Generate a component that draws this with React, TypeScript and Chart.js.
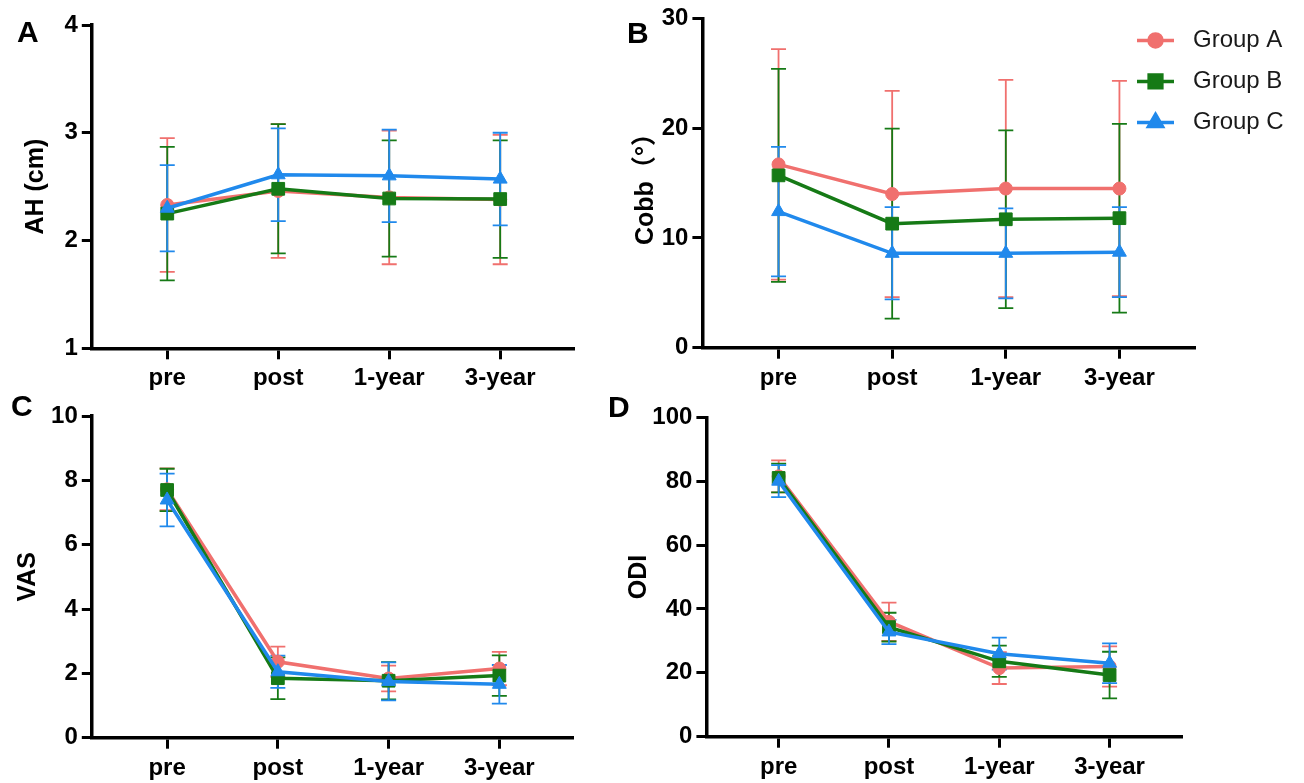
import React, { useEffect, useRef } from 'react';
import { Chart, registerables } from 'chart.js';
import { drawPoint } from 'chart.js/helpers';

Chart.register(...registerables);

const FONT_FAMILY = '"Liberation Sans", Arial, "Noto Sans CJK SC", sans-serif';
Chart.defaults.font.family = FONT_FAMILY;

// ---------- data ----------
const CATEGORIES = ['pre', 'post', '1-year', '3-year'];
const GROUPS = ['Group A', 'Group B', 'Group C'];
const COLORS = ['rgb(240,112,110)', 'rgb(22,122,22)', 'rgb(32,137,236)'];
const POINT_STYLES = ['circle', 'rect', 'triangle'];
const POINT_RADII = [6.5, 9, 8];

// Panel A: AH (cm)
const AH_A = [2.33, 2.46, 2.40, 2.38];
const AH_B = [2.25, 2.48, 2.39, 2.385];
const AH_C = [2.30, 2.61, 2.60, 2.57];
const AH_SD_A = [0.62, 0.62, 0.62, 0.60];
const AH_SD_B = [0.62, 0.60, 0.54, 0.545];
const AH_SD_C = [0.40, 0.43, 0.43, 0.43];

// Panel B: Cobb angle
const COBB_A = [16.7, 14.0, 14.5, 14.5];
const COBB_B = [15.7, 11.3, 11.7, 11.8];
const COBB_C = [12.4, 8.6, 8.6, 8.7];
const COBB_SD_A = [10.5, 9.4, 9.9, 9.8];
const COBB_SD_B = [9.7, 8.65, 8.1, 8.6];
const COBB_SD_C = [5.9, 4.2, 4.1, 4.1];

// Panel C: VAS
const VAS_A = [7.72, 2.36, 1.84, 2.15];
const VAS_B = [7.70, 1.85, 1.77, 1.93];
const VAS_C = [7.39, 2.05, 1.75, 1.66];
const VAS_SD_A = [0.65, 0.47, 0.40, 0.52];
const VAS_SD_B = [0.66, 0.65, 0.58, 0.63];
const VAS_SD_C = [0.82, 0.50, 0.59, 0.60];

// Panel D: ODI
const ODI_A = [81.5, 36.0, 21.5, 22.0];
const ODI_B = [81.0, 34.3, 23.6, 19.3];
const ODI_C = [80.0, 32.8, 26.0, 23.0];
const ODI_SD_A = [5.0, 6.0, 5.0, 6.3];
const ODI_SD_B = [4.5, 4.5, 4.9, 7.3];
const ODI_SD_C = [5.0, 3.8, 5.0, 6.2];

// ---------- layout specs ----------
type PanelSpec = {
  letter: string;
  letterLeft: number;
  letterTop: number;
  left: number;
  top: number;
  w: number;
  h: number;
  title: string;
  yMin: number;
  yMax: number;
  yStep: number;
  xMin: number;
  xMax: number;
  means: number[][];
  sds: number[][];
  legend: boolean;
  padLeft: number;
  padRight: number;
  padTop: number;
  yWidth: number;
  xHeight: number;
};

const PANELS: PanelSpec[] = [
  {
    letter: 'A', letterLeft: 17, letterTop: 17,
    left: 0, top: 0, w: 600, h: 390,
    title: 'AH (cm)', yMin: 1, yMax: 4, yStep: 1, xMin: -0.68, xMax: 3.665,
    means: [AH_A, AH_B, AH_C], sds: [AH_SD_A, AH_SD_B, AH_SD_C], legend: false,
    padLeft: 21.5, padRight: 26, padTop: 25, yWidth: 70.3, xHeight: 41.7,
  },
  {
    letter: 'B', letterLeft: 627, letterTop: 18,
    left: 600, top: 0, w: 704, h: 390,
    title: 'Cobb（°）', yMin: 0, yMax: 30, yStep: 10, xMin: -0.67, xMax: 3.665,
    means: [COBB_A, COBB_B, COBB_C], sds: [COBB_SD_A, COBB_SD_B, COBB_SD_C], legend: true,
    padLeft: 31, padRight: 109, padTop: 18.3, yWidth: 71.4, xHeight: 42.3,
  },
  {
    letter: 'C', letterLeft: 11, letterTop: 391,
    left: 0, top: 390, w: 600, h: 393,
    title: 'VAS', yMin: 0, yMax: 10, yStep: 2, xMin: -0.68, xMax: 3.665,
    means: [VAS_A, VAS_B, VAS_C], sds: [VAS_SD_A, VAS_SD_B, VAS_SD_C], legend: false,
    padLeft: 12.7, padRight: 27, padTop: 26, yWidth: 79.1, xHeight: 45.3,
  },
  {
    letter: 'D', letterLeft: 608, letterTop: 392,
    left: 600, top: 390, w: 704, h: 393,
    title: 'ODI', yMin: 0, yMax: 100, yStep: 20, xMin: -0.655, xMax: 3.66,
    means: [ODI_A, ODI_B, ODI_C], sds: [ODI_SD_A, ODI_SD_B, ODI_SD_C], legend: false,
    padLeft: 24, padRight: 121.6, padTop: 27.3, yWidth: 82.4, xHeight: 46.3,
  },
];

// ---------- plugins ----------
const errorBarPlugin = {
  id: 'errorBars',
  beforeDatasetsDraw(chart: any) {
    const { ctx } = chart;
    const xs = chart.scales.x;
    const ys = chart.scales.y;
    chart.data.datasets.forEach((ds: any) => {
      const sd: number[] = ds.sd || [];
      ctx.save();
      ctx.strokeStyle = ds.borderColor;
      ctx.lineWidth = 1.8;
      ds.data.forEach((pt: any, j: number) => {
        const x = xs.getPixelForValue(pt.x);
        const yt = ys.getPixelForValue(pt.y + sd[j]);
        const yb = ys.getPixelForValue(pt.y - sd[j]);
        const cw = 7.5;
        ctx.beginPath();
        ctx.moveTo(x, yt);
        ctx.lineTo(x, yb);
        ctx.moveTo(x - cw, yt);
        ctx.lineTo(x + cw, yt);
        ctx.moveTo(x - cw, yb);
        ctx.lineTo(x + cw, yb);
        ctx.stroke();
      });
      ctx.restore();
    });
  },
};

const groupLegendPlugin = {
  id: 'groupLegend',
  afterDraw(chart: any) {
    const { ctx, chartArea } = chart;
    chart.data.datasets.forEach((ds: any, i: number) => {
      const y = chartArea.top + 22 + i * 41;
      const x0 = chartArea.right - 58;
      const x1 = chartArea.right - 21;
      ctx.save();
      ctx.strokeStyle = ds.borderColor;
      ctx.fillStyle = ds.backgroundColor;
      ctx.lineWidth = 3.5;
      ctx.beginPath();
      ctx.moveTo(x0, y);
      ctx.lineTo(x1, y);
      ctx.stroke();
      drawPoint(ctx, { pointStyle: ds.pointStyle, radius: ds.pointRadius, borderWidth: 1, rotation: 0 } as any, (x0 + x1) / 2, y);
      ctx.fillStyle = '#1a1a1a';
      ctx.font = `24px ${FONT_FAMILY}`;
      ctx.textAlign = 'left';
      ctx.textBaseline = 'middle';
      ctx.fillText(ds.label, chartArea.right - 2, y);
      ctx.restore();
    });
  },
};

function buildConfig(p: PanelSpec): any {
  const tickFont = { family: FONT_FAMILY, size: 24, weight: 'bold' as const };
  return {
    type: 'line',
    data: {
      datasets: GROUPS.map((g, i) => ({
        label: g,
        data: p.means[i].map((v, j) => ({ x: j, y: v })),
        sd: p.sds[i],
        borderColor: COLORS[i],
        backgroundColor: COLORS[i],
        borderWidth: 3.5,
        pointStyle: POINT_STYLES[i],
        pointRadius: POINT_RADII[i],
        pointBorderWidth: 1,
        pointBorderColor: COLORS[i],
        pointBackgroundColor: COLORS[i],
        tension: 0,
        order: 3 - i,
      })),
    },
    options: {
      animation: false,
      responsive: false,
      devicePixelRatio: 1,
      events: [],
      layout: { padding: { left: p.padLeft, right: p.padRight, top: p.padTop, bottom: 0 } },
      plugins: {
        legend: { display: false },
        tooltip: { enabled: false },
      },
      scales: {
        x: {
          type: 'linear',
          min: p.xMin,
          max: p.xMax,
          afterBuildTicks: (s: any) => {
            s.ticks = CATEGORIES.map((_, i) => ({ value: i }));
          },
          afterFit: (s: any) => {
            s.height = p.xHeight;
          },
          ticks: {
            callback: (_v: any, idx: number) => CATEGORIES[idx] ?? '',
            autoSkip: false,
            maxRotation: 0,
            minRotation: 0,
            color: '#000',
            font: tickFont,
            padding: 5,
          },
          grid: {
            display: true,
            drawOnChartArea: false,
            drawTicks: true,
            tickLength: 11,
            tickWidth: 3,
            tickColor: '#000',
          },
          border: { display: true, color: '#000', width: 3.5 },
        },
        y: {
          type: 'linear',
          min: p.yMin,
          max: p.yMax,
          afterFit: (s: any) => {
            s.width = p.yWidth;
          },
          ticks: {
            stepSize: p.yStep,
            color: '#000',
            font: tickFont,
            padding: 4,
          },
          grid: {
            display: true,
            drawOnChartArea: false,
            drawTicks: true,
            tickLength: 10,
            tickWidth: 3,
            tickColor: '#000',
          },
          border: { display: true, color: '#000', width: 3.5 },
          title: {
            display: true,
            text: p.title,
            color: '#000',
            padding: 0,
            font: { family: FONT_FAMILY, size: 25, weight: 'bold' },
          },
        },
      },
    },
    plugins: p.legend ? [errorBarPlugin, groupLegendPlugin] : [errorBarPlugin],
  };
}

function Panel({ spec }: { spec: PanelSpec }) {
  const ref = useRef<HTMLCanvasElement>(null);
  useEffect(() => {
    if (!ref.current) return;
    const chart = new Chart(ref.current, buildConfig(spec));
    return () => chart.destroy();
  }, [spec]);
  return (
    <>
      <canvas
        ref={ref}
        width={spec.w}
        height={spec.h}
        style={{ position: 'absolute', left: spec.left, top: spec.top, width: spec.w, height: spec.h }}
      />
      <div
        style={{
          position: 'absolute',
          left: spec.letterLeft,
          top: spec.letterTop,
          fontFamily: FONT_FAMILY,
          fontWeight: 'bold',
          fontSize: 30,
          lineHeight: '30px',
          color: '#000',
        }}
      >
        {spec.letter}
      </div>
    </>
  );
}

export default function App() {
  return (
    <div style={{ position: 'absolute', left: 0, top: 0, width: 1304, height: 783, background: '#fff', overflow: 'hidden' }}>
      {PANELS.map((p) => (
        <Panel key={p.letter} spec={p} />
      ))}
    </div>
  );
}
